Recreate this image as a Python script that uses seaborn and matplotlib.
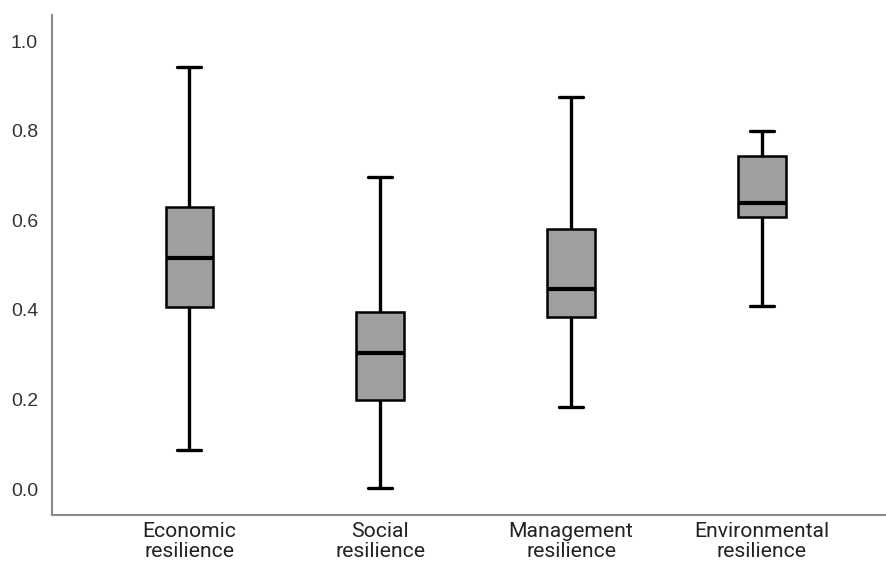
import numpy as np
import pandas as pd
import matplotlib
matplotlib.use("Agg")
import matplotlib.pyplot as plt
import seaborn as sns

# Five-number summaries per resilience dimension
categories = ["Economic\nresilience", "Social\nresilience",
              "Management\nresilience", "Environmental\nresilience"]
minimum = [0.087, 0.002, 0.183, 0.409]
q1 = [0.407, 0.199, 0.385, 0.608]
median = [0.517, 0.304, 0.447, 0.638]
q3 = [0.631, 0.396, 0.582, 0.743]
maximum = [0.942, 0.696, 0.875, 0.799]
y_ticks = [0.0, 0.2, 0.4, 0.6, 0.8, 1.0]

# Five observations per group reproduce the summary exactly
rows = []
for cat, a, b, c, d, e in zip(categories, minimum, q1, median, q3, maximum):
    for v in (a, b, c, d, e):
        rows.append({"dimension": cat, "score": v})
df = pd.DataFrame(rows)

sns.set_theme(style="white")
plt.rcParams["font.family"] = ["Roboto", "DejaVu Sans"]

fig = plt.figure(figsize=(8.86, 5.66), dpi=100)
ax = fig.add_axes([52 / 886, 51 / 566, 1 - 52 / 886, 500 / 566])

line_kw = dict(color="black", linewidth=2.4)
sns.boxplot(
    data=df, x="dimension", y="score", order=categories, ax=ax,
    width=0.25, whis=(0, 100), color="#a09e9e", saturation=1,
    linecolor="black", linewidth=1.8,
    boxprops=dict(edgecolor="black", linewidth=1.8),
    whiskerprops=line_kw, capprops=line_kw,
    medianprops=dict(color="black", linewidth=3),
    showfliers=False,
)

ax.set_xlim(-0.72, 3.65)
ax.set_ylim(-0.058, 1.059)
ax.set_yticks(y_ticks)
ax.set_yticklabels([f"{t:.1f}" for t in y_ticks],
                   family=["Liberation Sans", "DejaVu Sans"], fontsize=14,
                   color="#333333")
ax.set_xticks(range(len(categories)))
ax.set_xticklabels(categories, fontsize=15.2, color="#222222",
                   linespacing=1.05)
ax.tick_params(axis="x", pad=5, length=0)
ax.tick_params(axis="y", pad=10, length=0)
ax.set_xlabel("")
ax.set_ylabel("")

for side in ("top", "right"):
    ax.spines[side].set_visible(False)
for side in ("left", "bottom"):
    ax.spines[side].set_color("#8a8a8a")
    ax.spines[side].set_linewidth(1.5)

fig.savefig("out.png", dpi=100)
